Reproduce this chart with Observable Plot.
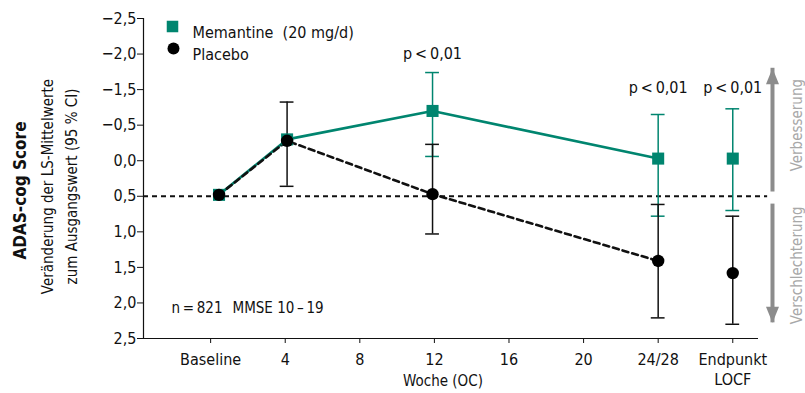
<!DOCTYPE html>
<html><head><meta charset="utf-8">
<script src="https://cdn.jsdelivr.net/npm/d3@7"></script>
<script src="https://cdn.jsdelivr.net/npm/@observablehq/plot@0.6"></script>
<style>html,body{margin:0;padding:0;background:#fff;overflow:hidden}</style>
</head><body><div id="chart"></div>
<script>
const FONT = '"Liberation Sans Narrow", "DejaVu Sans Condensed", sans-serif';
const TEAL = "#00856f";
const GREY = "#8c8c8c";

// x axis (weeks; Endpunkt LOCF placed at 28)
const xTickValues = [0, 4, 8, 12, 16, 20, 24, 28];
const xTickLabels = ["Baseline", "4", "8", "12", "16", "20", "24/28", "Endpunkt\nLOCF"];
const xDomain = [-3.6, 29.38];

// y axis (labels as printed; evenly spaced)
const yTickValues = [-2.5, -2.0, -1.5, -0.5, 0.0, 0.5, 1.0, 1.5, 2.0, 2.5];
const yTickLabels = ["−2,5", "−2,0", "−1,5", "−0,5", "0,0", "0,5", "1,0", "1,5", "2,0", "2,5"];

// visits
const visitX      = [0.45, 4.1, 11.9, 24, 28];
const inLine      = [true, true, true, true, false];
// Memantine (20 mg/d)
const memMean     = [0.48, -0.30, -0.90, -0.03, -0.03];
const memCiTop    = [null, null, -1.74, -0.80, -0.96];
const memCiBottom = [null, null, -0.06, 0.78, 0.70];
// Placebo
const plaMean     = [0.48, -0.28, 0.47, 1.41, 1.58];
const plaCiTop    = [null, -1.15, -0.23, 0.615, 0.78];
const plaCiBottom = [null, 0.36, 1.03, 2.21, 2.30];

// significance labels
const pX = [11.9, 24, 28];
const pY = [-2.0, -1.52, -1.52];
const pText = ["p\u2009<\u20090,01", "p\u2009<\u20090,01", "p\u2009<\u20090,01"];

// reference (baseline) line
const refY = 0.5;

// improvement / worsening arrows
const arrowNames = ["Verbesserung", "Verschlechterung"];
const arrowFrom = [0.44, 0.61];
const arrowTo = [-1.8, 2.28];
const arrowTextY = [-0.5, 1.47];

const yPos = d3.scaleLinear(yTickValues, d3.range(yTickValues.length));

const mem = visitX.map((x, i) => ({x, y: yPos(memMean[i]), top: memCiTop[i] == null ? null : yPos(memCiTop[i]), bottom: memCiBottom[i] == null ? null : yPos(memCiBottom[i]), line: inLine[i]}));
const pla = visitX.map((x, i) => ({x, y: yPos(plaMean[i]), top: plaCiTop[i] == null ? null : yPos(plaCiTop[i]), bottom: plaCiBottom[i] == null ? null : yPos(plaCiBottom[i]), line: inLine[i]}));
const capHalf = 0.37;
const arrowX = 30.13;
const arrows = arrowNames.map((name, i) => ({name, from: yPos(arrowFrom[i]), to: yPos(arrowTo[i]), ty: yPos(arrowTextY[i]), rot: i === 0 ? 0 : 180}));
const pRows = pX.map((x, i) => ({x, y: yPos(pY[i]), text: pText[i]}));

const head = {draw(ctx) { ctx.moveTo(0, 0); ctx.lineTo(-6.5, 16); ctx.lineTo(6.5, 16); ctx.closePath(); }};

function errorMarks(rows, color) {
  const r = rows.filter(d => d.top != null);
  return [
    Plot.ruleX(r, {x: "x", y1: "top", y2: "bottom", stroke: color, strokeWidth: 1.5}),
    Plot.ruleY(r, {y: "top", x1: d => d.x - capHalf, x2: d => d.x + capHalf, stroke: color, strokeWidth: 1.5}),
    Plot.ruleY(r, {y: "bottom", x1: d => d.x - capHalf, x2: d => d.x + capHalf, stroke: color, strokeWidth: 1.5})
  ];
}

const chart = Plot.plot({
  width: 805, height: 393,
  marginLeft: 143, marginRight: 47, marginTop: 18, marginBottom: 55,
  x: {domain: xDomain},
  y: {domain: [yTickValues.length - 1, 0]},
  style: {fontFamily: FONT, fontSize: "15px", color: "#111", background: "#fff", overflow: "visible"},
  marks: [
    Plot.axisX({ticks: xTickValues, tickFormat: d => xTickLabels[xTickValues.indexOf(d)], tickSize: 5, tickPadding: 7, label: null, fontSize: 16, lineHeight: 1.25}),
    Plot.axisY({ticks: d3.range(yTickValues.length), tickFormat: i => yTickLabels[i], tickSize: 6, tickPadding: 1, label: null, fontSize: 16}),
    Plot.ruleX([xDomain[0]], {stroke: "#111", strokeWidth: 1.2}),
    Plot.ruleY([yTickValues.length - 1], {stroke: "#111", strokeWidth: 1.2}),
    Plot.ruleY([yPos(refY)], {x1: xDomain[0], x2: 29.87, stroke: "#111", strokeWidth: 2, strokeDasharray: "5,4"}),
    ...errorMarks(mem, TEAL),
    ...errorMarks(pla, "#111"),
    Plot.line(mem.filter(d => d.line), {x: "x", y: "y", stroke: TEAL, strokeWidth: 2.6}),
    Plot.line(pla.filter(d => d.line), {x: "x", y: "y", stroke: "#111", strokeWidth: 2.6, strokeDasharray: "6,4"}),
    Plot.dot(mem, {x: "x", y: "y", symbol: "square", fill: TEAL, r: 6.8}),
    Plot.dot(pla, {x: "x", y: "y", fill: "#000", r: 6.2}),
    Plot.text(pRows, {x: "x", y: "y", text: "text", fontSize: 16, fill: "#111"}),
    // arrows
    Plot.ruleX(arrows, {x: () => arrowX, y1: "from", y2: "to", stroke: GREY, strokeWidth: 4}),
    Plot.dot(arrows, {x: () => arrowX, y: "to", symbol: head, rotate: "rot", fill: GREY, stroke: "none", r: 5}),
    Plot.text(arrows, {x: () => 31.47, y: "ty", text: "name", rotate: -90, fill: "#a8a8a8", fontSize: 15}),
    // legend
    Plot.dot([0], {frameAnchor: "top-left", dx: 29, dy: 8, symbol: "square", fill: TEAL, r: 6.5}),
    Plot.text(["Memantine  (20 mg/d)"], {frameAnchor: "top-left", dx: 49, dy: 8, textAnchor: "start", fontSize: 16, fill: "#111"}),
    Plot.dot([0], {frameAnchor: "top-left", dx: 30, dy: 30, fill: "#000", r: 6}),
    Plot.text(["Placebo"], {frameAnchor: "top-left", dx: 49, dy: 30, textAnchor: "start", fontSize: 16, fill: "#111"}),
    // note
    Plot.text(["n\u2009=\u2009821"], {frameAnchor: "bottom-left", dx: 28, dy: -26, textAnchor: "start", fontSize: 15, fill: "#111"}),
    Plot.text(["MMSE 10\u2009–\u200919"], {frameAnchor: "bottom-left", dx: 89, dy: -26, textAnchor: "start", fontSize: 15, fill: "#111"}),
    // axis titles
    Plot.text(["Woche (OC)"], {frameAnchor: "bottom", dx: -8, dy: 47, fontSize: 15, fill: "#111"}),
    Plot.text(["ADAS-cog Score"], {frameAnchor: "left", textAnchor: "middle", dx: -123, dy: 12, rotate: -90, fontSize: 17, fontWeight: "bold", fill: "#111"}),
    Plot.text(["Veränderung der LS-Mittelwerte"], {frameAnchor: "left", textAnchor: "middle", dx: -95, dy: 8, rotate: -90, fontSize: 15, fill: "#111"}),
    Plot.text(["zum Ausgangswert (95 % CI)"], {frameAnchor: "left", textAnchor: "middle", dx: -71, dy: 8, rotate: -90, fontSize: 15, fill: "#111"})
  ]
});
document.getElementById("chart").append(chart);
</script>
</body></html>
